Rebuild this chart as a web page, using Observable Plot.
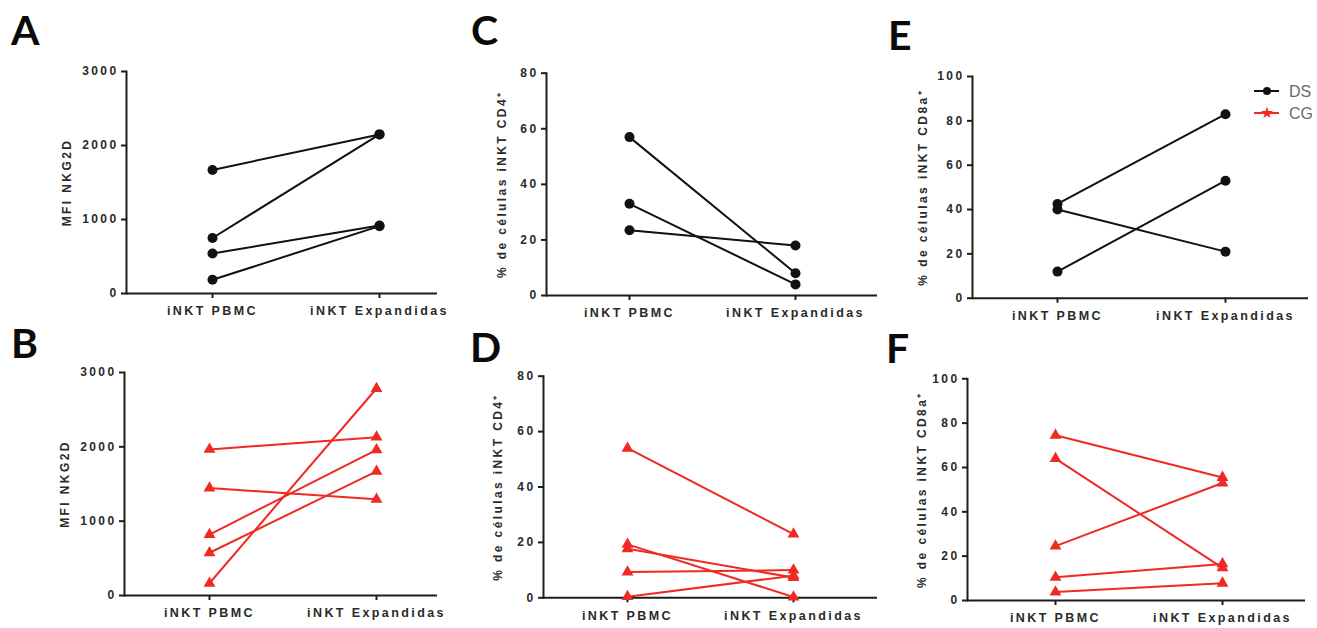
<!DOCTYPE html>
<html>
<head>
<meta charset="utf-8">
<script src="https://cdn.jsdelivr.net/npm/d3@7"></script>
<script src="https://cdn.jsdelivr.net/npm/@observablehq/plot@0.6"></script>
<style>
  html, body { margin: 0; padding: 0; background: #fff; }
  #root { position: relative; width: 1317px; height: 628px; overflow: hidden; background: #fff; }
  .panel { position: absolute; }
  .panel text { font-weight: bold; }
  #overlay { position: absolute; left: 0; top: 0; pointer-events: none; }
</style>
</head>
<body>
<div id="root"></div>
<script>
// ---------- data ----------
const categories = ["iNKT PBMC", "iNKT Expandidas"];
const groups = ["DS", "CG"];

const yLabelMFI = "MFI NKG2D";
const yLabelCD4 = "% de células iNKT CD4⁺";
const yLabelCD8 = "% de células iNKT CD8a⁺";

const ticksMFI = [0, 1000, 2000, 3000];
const ticksCD4 = [0, 20, 40, 60, 80];
const ticksCD8 = [0, 20, 40, 60, 80, 100];

// Panel A (DS) – MFI NKG2D
const A_pbmc = [1670, 750, 540, 185];
const A_exp  = [2150, 2150, 920, 910];
// Panel B (CG) – MFI NKG2D
const B_pbmc = [1965, 1445, 820, 575, 165];
const B_exp  = [2130, 1295, 1960, 1670, 2785];
// Panel C (DS) – % CD4+
const C_pbmc = [57, 33, 23.5];
const C_exp  = [8, 4, 18];
// Panel D (CG) – % CD4+
const D_pbmc = [54, 19.3, 17.7, 9.3, 0.4];
const D_exp  = [23, 0.3, 7.3, 10, 8];
// Panel E (DS) – % CD8a+
const E_pbmc = [42.5, 40, 12];
const E_exp  = [83, 21, 53];
// Panel F (CG) – % CD8a+
const F_pbmc = [74.5, 64, 24.5, 10.5, 3.8];
const F_exp  = [55.5, 14.7, 53, 16.5, 7.8];

// ---------- styles / layout ----------
const colors = { DS: "#111111", CG: "#ee2a22" };
const symbols = { DS: "circle", CG: "triangle" };
const radius = { DS: 5, CG: 4.4 };
const axisColor = "#1c1c1c";

function makeRows(pbmc, exp) {
  const rows = [];
  pbmc.forEach((v, i) => {
    rows.push({ id: i, cat: categories[0], value: v });
    rows.push({ id: i, cat: categories[1], value: exp[i] });
  });
  return rows;
}

const panels = [
  { letter: "A", group: "DS", pbmc: A_pbmc, exp: A_exp, ticks: ticksMFI, label: yLabelMFI,
    left: 0, top: 40, width: 445, height: 290, ml: 126, mr: 8, mt: 31, mb: 37, xr: [212, 379], lo: 64 },
  { letter: "C", group: "DS", pbmc: C_pbmc, exp: C_exp, ticks: ticksCD4, label: yLabelCD4,
    left: 440, top: 40, width: 445, height: 290, ml: 106, mr: 8, mt: 32.7, mb: 35, xr: [189, 355], lo: 49 },
  { letter: "E", group: "DS", pbmc: E_pbmc, exp: E_exp, ticks: ticksCD8, label: yLabelCD8,
    left: 880, top: 40, width: 437, height: 290, ml: 92, mr: 9, mt: 36, mb: 32.3, xr: [177, 345], lo: 54 },
  { letter: "B", group: "CG", pbmc: B_pbmc, exp: B_exp, ticks: ticksMFI, label: yLabelMFI,
    left: 0, top: 340, width: 445, height: 288, ml: 124, mr: 8, mt: 32, mb: 33, xr: [209, 376], lo: 64 },
  { letter: "D", group: "CG", pbmc: D_pbmc, exp: D_exp, ticks: ticksCD4, label: yLabelCD4,
    left: 440, top: 340, width: 445, height: 288, ml: 103, mr: 8, mt: 35.7, mb: 30.7, xr: [187, 353], lo: 50 },
  { letter: "F", group: "CG", pbmc: F_pbmc, exp: F_exp, ticks: ticksCD8, label: yLabelCD8,
    left: 880, top: 340, width: 437, height: 288, ml: 87, mr: 12, mt: 38.3, mb: 28, xr: [175, 342], lo: 50 }
];

const root = document.getElementById("root");

for (const p of panels) {
  const rows = makeRows(p.pbmc, p.exp);
  const col = colors[p.group];
  const chart = Plot.plot({
    width: p.width,
    height: p.height,
    marginLeft: p.ml,
    marginRight: p.mr,
    marginTop: p.mt,
    marginBottom: p.mb,
    style: {
      fontFamily: "'Liberation Sans', Arial, sans-serif",
      fontSize: "12px",
      fontWeight: "bold",
      letterSpacing: "2.4px",
      color: "#2a2a2a",
      background: "transparent",
      overflow: "visible"
    },
    x: { type: "point", domain: categories, range: p.xr, padding: 0 },
    y: { domain: [0, p.ticks[p.ticks.length - 1]] },
    marks: [
      Plot.frame({ anchor: "left", stroke: axisColor, strokeWidth: 2 }),
      Plot.ruleY([0], { stroke: axisColor, strokeWidth: 2 }),
      Plot.axisY({
        ticks: p.ticks,
        tickFormat: d3.format("d"),
        tickSize: 5,
        tickPadding: 3,
        strokeWidth: 2,
        stroke: axisColor,
        fontWeight: "bold",
        label: p.label,
        labelAnchor: "center",
        labelArrow: "none",
        labelOffset: p.lo
      }),
      Plot.axisX({
        tickSize: 5,
        tickPadding: 8,
        strokeWidth: 2,
        stroke: axisColor,
        fontWeight: "bold",
        label: null,
        fontSize: 12.5
      }),
      Plot.line(rows, { x: "cat", y: "value", z: "id", stroke: col, strokeWidth: 2 }),
      Plot.dot(rows, { x: "cat", y: "value", symbol: symbols[p.group], r: radius[p.group], fill: col, stroke: "none" })
    ]
  });
  chart.classList.add("panel");
  chart.style.left = p.left + "px";
  chart.style.top = p.top + "px";
  root.appendChild(chart);
}

// Panel letters
const letterPos = {
  A: [11, 45], C: [471, 45], E: [888, 50],
  B: [11, 358], D: [470, 362], F: [886, 363]
};
const ns = "http://www.w3.org/2000/svg";
const overlay = document.createElementNS(ns, "svg");
overlay.setAttribute("id", "overlay");
overlay.setAttribute("width", 1317);
overlay.setAttribute("height", 628);
for (const p of panels) {
  const t = document.createElementNS(ns, "text");
  t.setAttribute("x", letterPos[p.letter][0]);
  t.setAttribute("y", letterPos[p.letter][1]);
  t.setAttribute("font-family", "Lato, 'Open Sans', sans-serif");
  t.setAttribute("font-weight", "bold");
  t.setAttribute("font-size", "41");
  t.setAttribute("fill", "#0a0a0a");
  t.textContent = p.letter;
  overlay.appendChild(t);
}
// Legend (in panel E)
const legendY = [91, 113];
groups.forEach((g, i) => {
  const y = legendY[i];
  const line = document.createElementNS(ns, "line");
  line.setAttribute("x1", 1254); line.setAttribute("x2", 1279);
  line.setAttribute("y1", y); line.setAttribute("y2", y);
  line.setAttribute("stroke", colors[g]); line.setAttribute("stroke-width", 2);
  overlay.appendChild(line);
  const sym = document.createElementNS(ns, "path");
  const symGen = g === "DS" ? d3.symbolCircle : d3.symbolStar;
  sym.setAttribute("d", d3.symbol(symGen, g === "DS" ? 50 : 45)());
  sym.setAttribute("transform", `translate(1267,${y})`);
  sym.setAttribute("fill", colors[g]);
  overlay.appendChild(sym);
  const t = document.createElementNS(ns, "text");
  t.setAttribute("x", 1289);
  t.setAttribute("y", y);
  t.setAttribute("dy", "0.35em");
  t.setAttribute("font-family", "'Liberation Sans', Arial, sans-serif");
  t.setAttribute("font-size", "16");
  t.setAttribute("fill", "#6a6a6a");
  t.textContent = g;
  overlay.appendChild(t);
});
root.appendChild(overlay);
</script>
</body>
</html>
